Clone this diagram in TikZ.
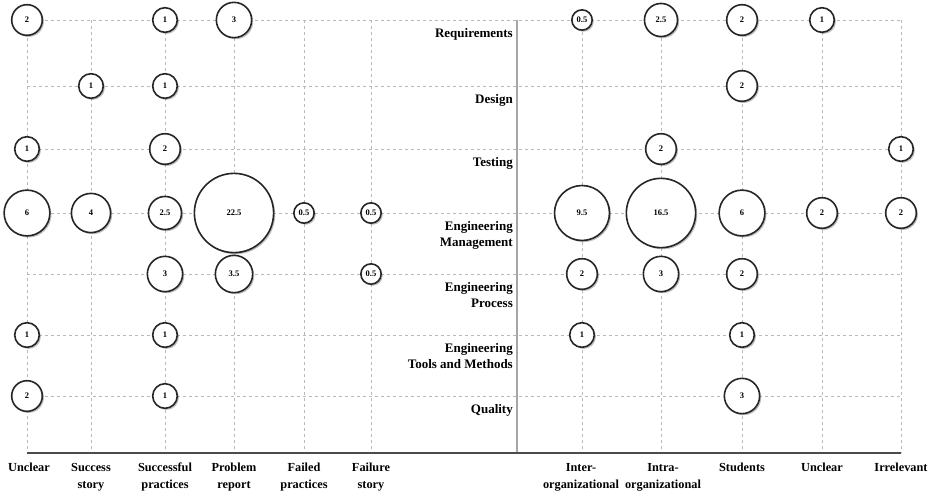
\documentclass[tikz,border=0pt]{standalone}
\usepackage{fontspec}
\setmainfont{Liberation Serif}
\usetikzlibrary{shadows}

\begin{document}
\begin{tikzpicture}[
  x=1pt, y=-1pt,
  gridline/.style={draw=gray!55, line width=0.8pt, dash pattern=on 3pt off 3pt},
  axisline/.style={draw=black!70, line width=2pt},
  divider/.style={draw=gray!70, line width=1.2pt},
  bubble/.style={circle, draw=black!85, line width=1.6pt, fill=white, inner sep=0pt,
    minimum size={10+14.6*sqrt(#1)},
    drop shadow={shadow xshift=1.6pt, shadow yshift=-1.6pt, opacity=0.5},
    font=\fontsize{8.5}{9}\selectfont\bfseries},
  rowlabel/.style={anchor=north east, align=right, inner sep=0pt, font=\fontsize{13}{16}\selectfont\bfseries},
  collabel/.style={anchor=north, align=center, inner sep=0pt, font=\fontsize{12.3}{17}\selectfont\bfseries}
]
\useasboundingbox (0,0) rectangle (937,496);

% columns (top) and their feet on the axis
\coordinate (unc1) at (27,20);   \coordinate (unc1-b) at (27,453);
\coordinate (succ) at (91,20);   \coordinate (succ-b) at (91,453);
\coordinate (sprac) at (165,20); \coordinate (sprac-b) at (165,453);
\coordinate (prob) at (234,20);  \coordinate (prob-b) at (234,453);
\coordinate (fprac) at (304,20); \coordinate (fprac-b) at (304,453);
\coordinate (fail) at (371,20);  \coordinate (fail-b) at (371,453);
\coordinate (inter) at (582,20); \coordinate (inter-b) at (582,453);
\coordinate (intra) at (661,20); \coordinate (intra-b) at (661,453);
\coordinate (stud) at (742,20);  \coordinate (stud-b) at (742,453);
\coordinate (unc2) at (822,20);  \coordinate (unc2-b) at (822,453);
\coordinate (irr) at (901,20);   \coordinate (irr-b) at (901,453);

% rows (left end and right end)
\coordinate (req) at (27,20);   \coordinate (req-e) at (901,20);
\coordinate (des) at (27,86);   \coordinate (des-e) at (901,86);
\coordinate (test) at (27,149); \coordinate (test-e) at (901,149);
\coordinate (mgmt) at (27,213); \coordinate (mgmt-e) at (901,213);
\coordinate (proc) at (27,274); \coordinate (proc-e) at (901,274);
\coordinate (tool) at (27,335); \coordinate (tool-e) at (901,335);
\coordinate (qual) at (27,396); \coordinate (qual-e) at (901,396);

\coordinate (div-t) at (517,20);
\coordinate (div-b) at (517,453);

% grid
\draw[gridline] (req) -- (req-e);
\draw[gridline] (des) -- (des-e);
\draw[gridline] (test) -- (test-e);
\draw[gridline] (mgmt) -- (mgmt-e);
\draw[gridline] (proc) -- (proc-e);
\draw[gridline] (tool) -- (tool-e);
\draw[gridline] (qual) -- (qual-e);
\draw[gridline] (unc1) -- (unc1-b);
\draw[gridline] (succ) -- (succ-b);
\draw[gridline] (sprac) -- (sprac-b);
\draw[gridline] (prob) -- (prob-b);
\draw[gridline] (fprac) -- (fprac-b);
\draw[gridline] (fail) -- (fail-b);
\draw[gridline] (inter) -- (inter-b);
\draw[gridline] (intra) -- (intra-b);
\draw[gridline] (stud) -- (stud-b);
\draw[gridline] (unc2) -- (unc2-b);
\draw[gridline] (irr) -- (irr-b);

\draw[divider] (div-t) -- (div-b);
\draw[axisline] (unc1-b) -- (irr-b);

% left half
\node[bubble=2] (req-unc1) at (unc1 |- req) {2};
\node[bubble=1] (req-sprac) at (sprac |- req) {1};
\node[bubble=3] (req-prob) at (prob |- req) {3};
\node[bubble=1] (des-succ) at (succ |- des) {1};
\node[bubble=1] (des-sprac) at (sprac |- des) {1};
\node[bubble=1] (test-unc1) at (unc1 |- test) {1};
\node[bubble=2] (test-sprac) at (sprac |- test) {2};
\node[bubble=6] (mgmt-unc1) at (unc1 |- mgmt) {6};
\node[bubble=4] (mgmt-succ) at (succ |- mgmt) {4};
\node[bubble=2.5] (mgmt-sprac) at (sprac |- mgmt) {2.5};
\node[bubble=22.5] (mgmt-prob) at (prob |- mgmt) {22.5};
\node[bubble=0.5] (mgmt-fprac) at (fprac |- mgmt) {0.5};
\node[bubble=0.5] (mgmt-fail) at (fail |- mgmt) {0.5};
\node[bubble=3] (proc-sprac) at (sprac |- proc) {3};
\node[bubble=3.5] (proc-prob) at (prob |- proc) {3.5};
\node[bubble=0.5] (proc-fail) at (fail |- proc) {0.5};
\node[bubble=1] (tool-unc1) at (unc1 |- tool) {1};
\node[bubble=1] (tool-sprac) at (sprac |- tool) {1};
\node[bubble=2] (qual-unc1) at (unc1 |- qual) {2};
\node[bubble=1] (qual-sprac) at (sprac |- qual) {1};

% right half
\node[bubble=0.5] (req-inter) at (inter |- req) {0.5};
\node[bubble=2.5] (req-intra) at (intra |- req) {2.5};
\node[bubble=2] (req-stud) at (stud |- req) {2};
\node[bubble=1] (req-unc2) at (unc2 |- req) {1};
\node[bubble=2] (des-stud) at (stud |- des) {2};
\node[bubble=2] (test-intra) at (intra |- test) {2};
\node[bubble=1] (test-irr) at (irr |- test) {1};
\node[bubble=9.5] (mgmt-inter) at (inter |- mgmt) {9.5};
\node[bubble=16.5] (mgmt-intra) at (intra |- mgmt) {16.5};
\node[bubble=6] (mgmt-stud) at (stud |- mgmt) {6};
\node[bubble=2] (mgmt-unc2) at (unc2 |- mgmt) {2};
\node[bubble=2] (mgmt-irr) at (irr |- mgmt) {2};
\node[bubble=2] (proc-inter) at (inter |- proc) {2};
\node[bubble=3] (proc-intra) at (intra |- proc) {3};
\node[bubble=2] (proc-stud) at (stud |- proc) {2};
\node[bubble=1] (tool-inter) at (inter |- tool) {1};
\node[bubble=1] (tool-stud) at (stud |- tool) {1};
\node[bubble=3] (qual-stud) at (stud |- qual) {3};

% row labels
\node[rowlabel] (l-req) at (513,28) {Requirements};
\node[rowlabel] (l-des) at (513,94) {Design};
\node[rowlabel] (l-test) at (513,157) {Testing};
\node[rowlabel] (l-mgmt) at (513,221) {Engineering\\Management};
\node[rowlabel] (l-proc) at (513,282) {Engineering\\Process};
\node[rowlabel] (l-tool) at (513,343) {Engineering\\Tools and Methods};
\node[rowlabel] (l-qual) at (513,404) {Quality};

% column labels
\node[collabel] (x-unc1) at (29,463) {Unclear};
\node[collabel] (x-succ) at (91,463) {Success\\story};
\node[collabel] (x-sprac) at (165,463) {Successful\\practices};
\node[collabel] (x-prob) at (234,463) {Problem\\report};
\node[collabel] (x-fprac) at (304,463) {Failed\\practices};
\node[collabel] (x-fail) at (371,463) {Failure\\story};
\node[collabel] (x-inter) at (581,463) {Inter-\\organizational};
\node[collabel] (x-intra) at (663,463) {Intra-\\organizational};
\node[collabel] (x-stud) at (742,463) {Students};
\node[collabel] (x-unc2) at (822,463) {Unclear};
\node[collabel] (x-irr) at (901,463) {Irrelevant};
\end{tikzpicture}
\end{document}
